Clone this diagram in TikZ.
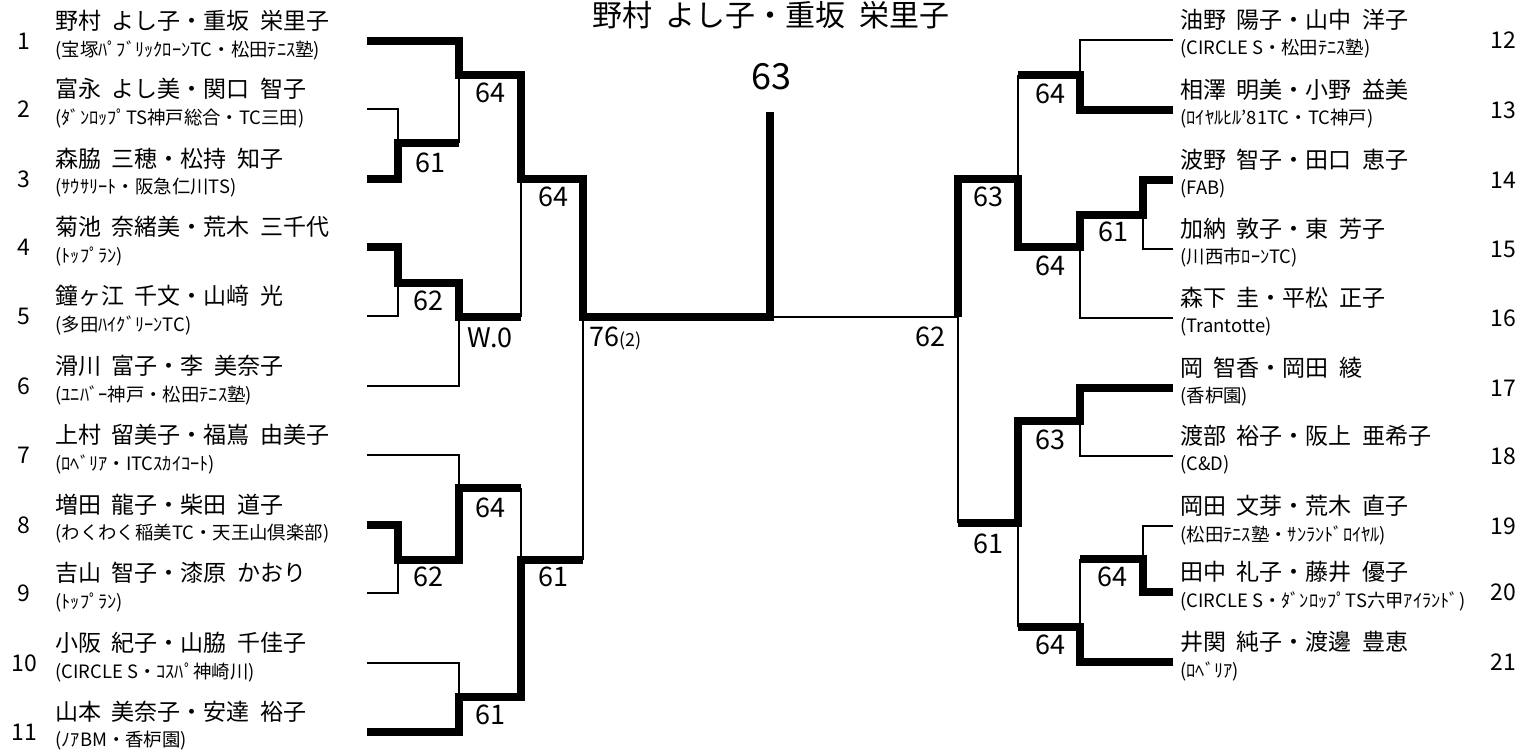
\documentclass[tikz,border=0pt]{standalone}
\usepackage{fontspec}
\setmainfont{Noto Sans CJK JP}
\usepackage{tikz}

\begin{document}
\begin{tikzpicture}[x=0.5pt, y=-0.5pt,
  win/.style={line width=3.8pt},
  lose/.style={line width=1.2pt},
  pairname/.style={font={\fontsize{11.5}{13}\selectfont\spaceskip=0.45em\relax}, anchor=west, inner sep=0pt},
  clubname/.style={font=\fontsize{9.2}{11}\selectfont, anchor=west, inner sep=0pt},
  seedno/.style={font=\fontsize{11.5}{13}\selectfont, inner sep=0pt},
  result/.style={font=\fontsize{13.5}{15}\selectfont, inner sep=0pt}]
\useasboundingbox (0,0) rectangle (1520,753);
\node[font={\fontsize{15}{17}\selectfont\spaceskip=0.45em\relax}, inner sep=0pt] (title) at (771,15) {野村 よし子・重坂 栄里子};
\foreach \i/\y/\nm/\cl in {1/41/{野村 よし子・重坂 栄里子}/{(宝塚ﾊﾟﾌﾞﾘｯｸﾛｰﾝTC・松田ﾃﾆｽ塾)},
  2/109/{富永 よし美・関口 智子}/{(ﾀﾞﾝﾛｯﾌﾟTS神戸総合・TC三田)},
  3/179/{森脇 三穂・松持 知子}/{(ｻｳｻﾘｰﾄ・阪急仁川TS)},
  4/247/{菊池 奈緒美・荒木 三千代}/{(ﾄｯﾌﾟﾗﾝ)},
  5/316/{鐘ヶ江 千文・山﨑 光}/{(多田ﾊｲｸﾞﾘｰﾝTC)},
  6/386/{滑川 富子・李 美奈子}/{(ﾕﾆﾊﾞｰ神戸・松田ﾃﾆｽ塾)},
  7/455/{上村 留美子・福嶌 由美子}/{(ﾛﾍﾞﾘｱ・ITCｽｶｲｺｰﾄ)},
  8/525/{増田 龍子・柴田 道子}/{(わくわく稲美TC・天王山倶楽部)},
  9/593/{吉山 智子・漆原 かおり}/{(ﾄｯﾌﾟﾗﾝ)},
  10/663/{小阪 紀子・山脇 千佳子}/{(CIRCLE S・ｺｽﾊﾟ神崎川)},
  11/732/{山本 美奈子・安達 裕子}/{(ﾉｱBM・香枦園)}} {
  \coordinate (L\i) at (367,\y);
  \node[seedno] (k\i) at (24,\y) {\i};
  \node[pairname] (n\i) at (55,\y-20) {\nm};
  \node[clubname] (c\i) at (55,\y+9) {\cl};
}
\foreach \i/\y/\nm/\cl in {12/40/{油野 陽子・山中 洋子}/{(CIRCLE S・松田ﾃﾆｽ塾)},
  13/110/{相澤 明美・小野 益美}/{(ﾛｲﾔﾙﾋﾙ'81TC・TC神戸)},
  14/180/{波野 智子・田口 恵子}/{(FAB)},
  15/249/{加納 敦子・東 芳子}/{(川西市ﾛｰﾝTC)},
  16/318/{森下 圭・平松 正子}/{(Trantotte)},
  17/388/{岡 智香・岡田 綾}/{(香枦園)},
  18/456/{渡部 裕子・阪上 亜希子}/{(C\&D)},
  19/526/{岡田 文芽・荒木 直子}/{(松田ﾃﾆｽ塾・ｻﾝﾗﾝﾄﾞﾛｲﾔﾙ)},
  20/592/{田中 礼子・藤井 優子}/{(CIRCLE S・ﾀﾞﾝﾛｯﾌﾟTS六甲ｱｲﾗﾝﾄﾞ)},
  21/662/{井関 純子・渡邊 豊恵}/{(ﾛﾍﾞﾘｱ)}} {
  \coordinate (R\i) at (1173,\y);
  \node[seedno] (k\i) at (1503,\y) {\i};
  \node[pairname] (n\i) at (1180,\y-20) {\nm};
  \node[clubname] (c\i) at (1180,\y+9) {\cl};
}
\coordinate (m23) at (398,143);
\coordinate (m1) at (459,75);
\coordinate (m45) at (398,283);
\coordinate (m6) at (459,317);
\coordinate (mA) at (521,179);
\coordinate (m89) at (398,560);
\coordinate (m7) at (459,488);
\coordinate (m1011) at (459,697);
\coordinate (mB) at (521,560);
\coordinate (mL) at (583,317);
\coordinate (fin) at (770,317);
\coordinate (champ) at (770,112);
\coordinate (m1213) at (1080,75);
\coordinate (m1415) at (1143,215);
\coordinate (m16) at (1080,247);
\coordinate (mC) at (1018,179);
\coordinate (m1718) at (1080,421);
\coordinate (m1920) at (1143,559);
\coordinate (m21) at (1080,627);
\coordinate (mD) at (1018,523);
\coordinate (mR) at (958,317);
\draw[win] (L1) -| (m1) -| (mA) -| (mL) -- (fin) -- (champ);
\draw[win] (L3) -| (m23) -- (m23 -| m1);
\draw[win] (L4) -| (m45) -| (m6) -- (m6 -| mA);
\draw[win] (L8) -| (m89) -| (m7) -- (m7 -| mB);
\draw[win] (L11) -| (m1011) -| (mB) -- (mB -| mL);
\draw[lose] (L2) -| (m23); \draw[lose] (m23 -| m1) -- (m1);
\draw[lose] (L5) -| (m45); \draw[lose] (L6) -| (m6);
\draw[lose] (m6 -| mA) -- (mA);
\draw[lose] (L7) -| (m7); \draw[lose] (L9) -| (m89);
\draw[lose] (m7 -| mB) -- (mB);
\draw[lose] (L10) -| (m1011);
\draw[lose] (mB -| mL) -- (mL);
\draw[lose] (fin) -- (mR);
\draw[win] (R14) -| (m1415) -| (m16) -| (mC) -| (mR);
\draw[win] (R13) -| (m1213) -- (m1213 -| mC);
\draw[win] (R17) -| (m1718) -| (mD) -- (mD -| mR);
\draw[win] (R20) -| (m1920) -- (m1920 -| m21);
\draw[win] (R21) -| (m21) -- (m21 -| mD);
\draw[lose] (R12) -| (m1213); \draw[lose] (m1213 -| mC) -- (mC);
\draw[lose] (R15) -| (m1415); \draw[lose] (R16) -| (m16);
\draw[lose] (R18) -| (m1718); \draw[lose] (R19) -| (m1920);
\draw[lose] (m1920 -| m21) -- (m21);
\draw[lose] (m21 -| mD) -- (mD);
\draw[lose] (mD -| mR) -- (mR);
\node[result] (s23) at (430,163) {61};
\node[result] (s1) at (490,93) {64};
\node[result] (sA) at (553,197) {64};
\node[result] (s45) at (428,301) {62};
\node[result] (s6) at (490,338) {W.0};
\node[result, anchor=west] (sL) at (589,338) {76{\fontsize{9}{10}\selectfont(2)}};
\node[result] (s7) at (490,508) {64};
\node[result] (s89) at (428,577) {62};
\node[result] (sB) at (553,577) {61};
\node[result] (s1011) at (490,715) {61};
\node[font=\fontsize{18}{20}\selectfont, inner sep=0pt] (sF) at (771,77) {63};
\node[result] (s1213) at (1050,94) {64};
\node[result] (sC) at (988,197) {63};
\node[result] (s1415) at (1113,232) {61};
\node[result] (s16) at (1050,266) {64};
\node[result] (sR) at (930,337) {62};
\node[result] (s1718) at (1050,440) {63};
\node[result] (sD) at (988,544) {61};
\node[result] (s1920) at (1112,577) {64};
\node[result] (s21) at (1050,645) {64};
\end{tikzpicture}
\end{document}
